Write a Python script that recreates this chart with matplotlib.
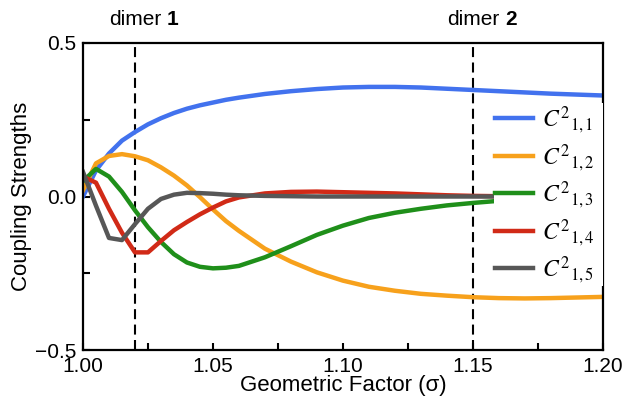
import matplotlib.pyplot as plt
from matplotlib.font_manager import FontProperties

plt.rcParams['font.family'] = 'Liberation Sans'

# geometric factor grid and coupling strengths C^2_{1,n}
sigma = [1.000, 1.005, 1.010, 1.015, 1.020, 1.025, 1.030, 1.035, 1.040,
         1.045, 1.050, 1.055, 1.060, 1.070, 1.080, 1.090, 1.100, 1.110,
         1.120, 1.130, 1.140, 1.150, 1.160, 1.170, 1.180, 1.190, 1.200]

c11 = [0.000, 0.085, 0.140, 0.182, 0.210, 0.235, 0.255, 0.272, 0.286,
       0.297, 0.306, 0.315, 0.322, 0.334, 0.343, 0.350, 0.355, 0.357,
       0.357, 0.355, 0.351, 0.347, 0.343, 0.339, 0.335, 0.332, 0.329]
c12 = [0.020, 0.108, 0.132, 0.138, 0.131, 0.118, 0.095, 0.068, 0.036,
       -0.002, -0.042, -0.080, -0.112, -0.170, -0.212, -0.247, -0.274, -0.294,
       -0.307, -0.317, -0.323, -0.328, -0.331, -0.332, -0.331, -0.329, -0.327]
c13 = [0.050, 0.090, 0.065, 0.015, -0.045, -0.100, -0.148, -0.188, -0.215,
       -0.229, -0.234, -0.232, -0.226, -0.198, -0.162, -0.125, -0.095, -0.070,
       -0.053, -0.040, -0.029, -0.021, -0.014, -0.008, -0.004, -0.002, 0.000]
c14 = [0.065, 0.045, -0.040, -0.118, -0.182, -0.182, -0.145, -0.110, -0.083,
       -0.058, -0.036, -0.016, -0.003, 0.010, 0.015, 0.016, 0.014, 0.012,
       0.010, 0.007, 0.004, 0.002, 0.001, 0.000, 0.000, 0.000, 0.000]
c15 = [0.080, -0.030, -0.135, -0.142, -0.090, -0.040, -0.008, 0.006, 0.012,
       0.011, 0.009, 0.006, 0.004, 0.002, 0.001, 0.000, 0.000, 0.000,
       0.000, 0.000, 0.000, 0.000, 0.000, 0.000, 0.000, 0.000, 0.000]

labels = [r'$C^{2}{}_{1,1}$', r'$C^{2}{}_{1,2}$', r'$C^{2}{}_{1,3}$',
          r'$C^{2}{}_{1,4}$', r'$C^{2}{}_{1,5}$']
colors = ['#4272ee', '#f7a11c', '#1f8f1a', '#d12a17', '#575757']

dimers = [1.02, 1.15]
dimer_names = ['1', '2']

xticks = [1.00, 1.05, 1.10, 1.15, 1.20]
xtick_labels = ['1.00', '1.05', '1.10', '1.15', '1.20']
yticks = [-0.5, 0.0, 0.5]
ytick_labels = ['\u22120.5', '0.0', '0.5']

fig = plt.figure(figsize=(6.24, 4), dpi=100)
ax = fig.add_axes([0.133, 0.125, 0.833, 0.7675])

for vals, col, lab in zip([c11, c12, c13, c14, c15], colors, labels):
    ax.plot(sigma, vals, color=col, lw=3.2, label=lab, solid_joinstyle='round')

for d, name in zip(dimers, dimer_names):
    ax.axvline(d, color='black', lw=1.5, dashes=(4.8, 2.6), zorder=1)
    ax.annotate('dimer', xy=(d, 1), xycoords=ax.get_xaxis_transform(),
                xytext=(19, 17), textcoords='offset points',
                ha='right', va='center', fontsize=15)
    ax.annotate(name, xy=(d, 1), xycoords=ax.get_xaxis_transform(),
                xytext=(23, 17), textcoords='offset points',
                ha='left', va='center', fontsize=15, fontweight='bold')

ax.set_xlim(1.0, 1.2)
ax.set_ylim(-0.5, 0.5)
ax.set_xticks(xticks, xtick_labels)
ax.set_xticks([1.025, 1.075, 1.125, 1.175], minor=True)
ax.set_yticks(yticks, ytick_labels)
ax.set_yticks([-0.25, 0.25], minor=True)
ax.tick_params(which='both', direction='in', length=5, width=1.5,
               labelsize=15, pad=5)

for sp in ax.spines.values():
    sp.set_linewidth(1.6)

ax.set_xlabel('Geometric Factor (\u03c3)', fontsize=16, labelpad=-1)
ax.set_ylabel('Coupling Strengths', fontsize=16, labelpad=2)

# legend box stretched to the right spine so it hides the tails of the curves
leg = ax.legend(loc='upper left', bbox_to_anchor=(0.79, 0.0, 0.21, 0.805),
                mode='expand',
                prop=FontProperties(size=17, math_fontfamily='stix'),
                frameon=True, facecolor='white', edgecolor='none',
                framealpha=1, fancybox=False, handlelength=1.6,
                handletextpad=0.4, labelspacing=0.28, borderpad=0.05,
                borderaxespad=0)

fig.savefig('out.png', dpi=100)
